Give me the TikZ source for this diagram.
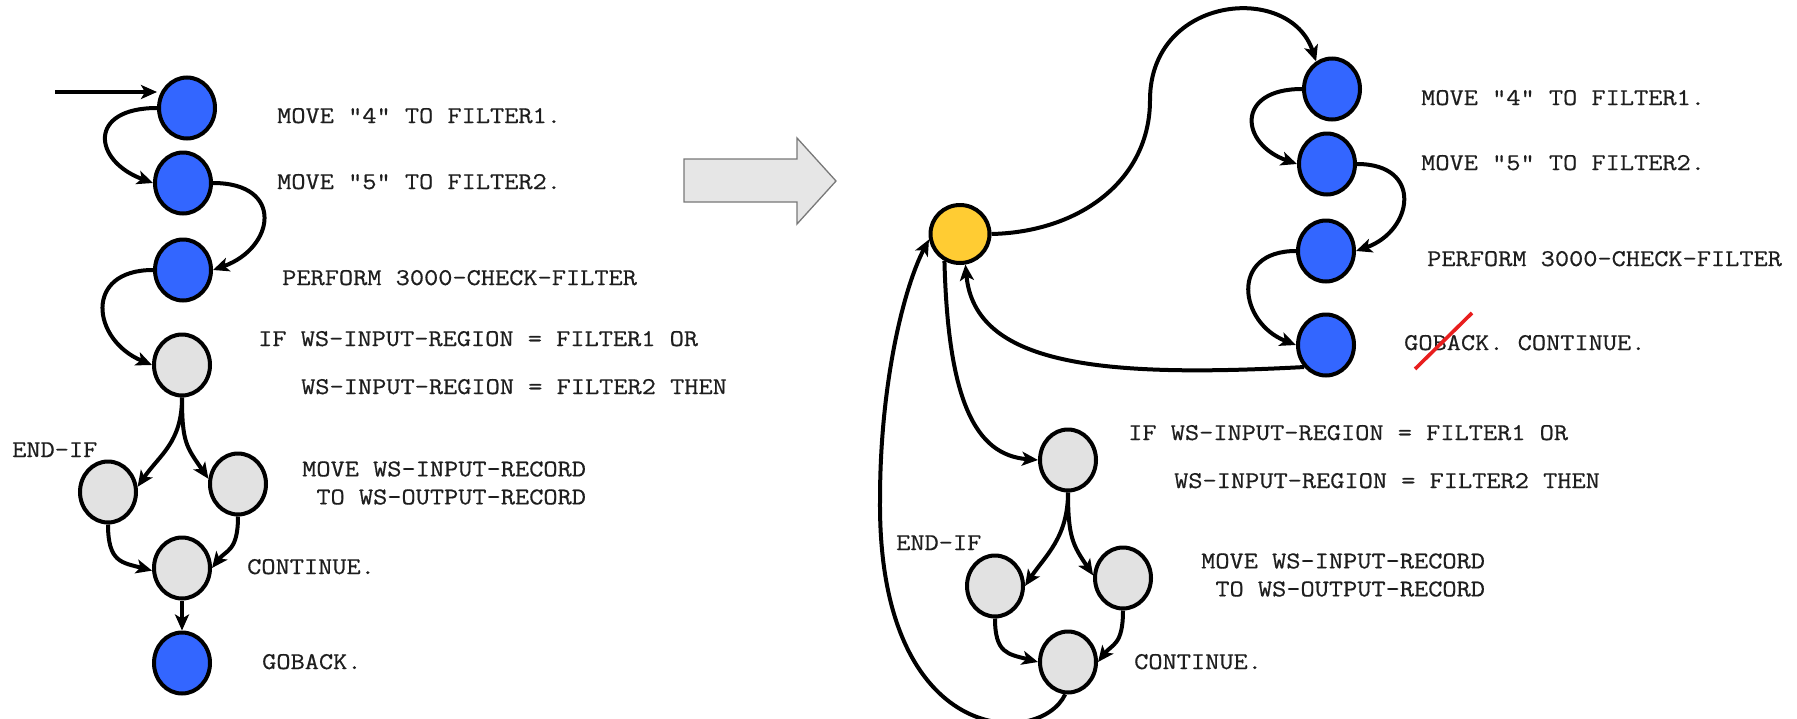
\documentclass[tikz,border=0pt]{standalone}
\usepackage{fontspec}
\setmonofont[FakeStretch=1.148,FakeBold=0.6]{Latin Modern Mono}
\usetikzlibrary{arrows.meta,shapes.geometric,calc}
\definecolor{stmtblue}{RGB}{51,102,255}
\definecolor{stmtgray}{RGB}{226,226,226}
\definecolor{hubyellow}{RGB}{255,204,51}
\definecolor{blockgray}{RGB}{230,230,230}
\definecolor{blockedge}{RGB}{120,120,120}
\definecolor{codeink}{RGB}{30,30,30}
\definecolor{strikered}{RGB}{232,30,30}

\begin{document}
\begin{tikzpicture}[x=1pt,y=1pt,
  stmt/.style={ellipse, draw=black, line width=4pt, minimum width=56pt,
               minimum height=61pt, inner sep=0pt},
  bluestmt/.style={stmt, fill=stmtblue},
  graystmt/.style={stmt, fill=stmtgray},
  hub/.style={stmt, fill=hubyellow, minimum width=59pt, minimum height=58pt},
  flow/.style={line width=4pt, -{Stealth[length=16pt,width=14pt,inset=4pt]}},
  code/.style={font=\ttfamily\fontsize{24}{28}\selectfont, text=codeink,
               inner sep=0pt, anchor=base west},
  codeblock/.style={code, anchor=west, align=right},
]
\useasboundingbox (0,0) rectangle (1797,-718);

% ---------- original control flow (left) ----------
\node[bluestmt] (L1) at (187,-108) {};
\node[bluestmt] (L2) at (183,-183) {};
\node[bluestmt] (L3) at (183,-270) {};
\node[graystmt] (L4) at (182,-365) {};
\node[graystmt] (L5) at (108,-492) {};
\node[graystmt] (L6) at (238,-484) {};
\node[graystmt] (L7) at (182,-568) {};
\node[bluestmt] (L8) at (182,-663) {};
\coordinate (entry) at (55,-92);

\draw[flow] (entry) -- (entry -| L1.west);
\draw[flow] (L1.west) .. controls +(-70,0) and +(-60,22) .. (L2.west);
\draw[flow] (L2.east) .. controls +(72,0) and +(62,22) .. (L3.east);
\draw[flow] (L3.west) .. controls +(-70,0) and +(-60,25) .. (L4.west);
\draw[flow] (L4.south) .. controls +(0,-45) and +(22,32) .. (L5.10);
\draw[flow] (L4.south) .. controls +(0,-45) and +(-22,32) .. (L6.170);
\draw[flow] (L5.south) .. controls +(0,-38) and +(-30,8) .. (L7.185);
\draw[flow] (L6.south) .. controls +(0,-35) and +(14,18) .. (L7.east);
\draw[flow] (L7.south) -- (L8.north);

\node[code] (t1) at (277,-123) {MOVE "4" TO FILTER1.};
\node[code] (t2) at (277,-189) {MOVE "5" TO FILTER2.};
\node[code] (t3) at (282,-285) {PERFORM 3000-CHECK-FILTER};
\node[code] (t4) at (258,-346) {IF WS-INPUT-REGION = FILTER1 OR};
\node[code] (t5) at (301,-394) {WS-INPUT-REGION = FILTER2 THEN};
\node[code] (t6) at (12,-457) {END-IF};
\node[codeblock] (t7) at (302,-483) {MOVE WS-INPUT-RECORD\\TO WS-OUTPUT-RECORD};
\node[code] (t8) at (247,-574) {CONTINUE.};
\node[code] (t9) at (262,-669) {GOBACK.};

% ---------- transformation arrow ----------
\draw[draw=blockedge, fill=blockgray, line width=1.3pt]
  (684,-159) -- (797,-159) -- (797,-138) -- (836,-181) -- (797,-224)
  -- (797,-202) -- (684,-202) -- cycle;

% ---------- rewritten control flow (right) ----------
\node[bluestmt] (R1) at (1332,-89) {};
\node[bluestmt] (R2) at (1327,-164) {};
\node[bluestmt] (R3) at (1326,-251) {};
\node[bluestmt] (R4) at (1326,-345) {};
\node[hub] (Y) at (960,-234) {};
\node[graystmt] (G1) at (1068,-460) {};
\node[graystmt] (G2) at (995,-586) {};
\node[graystmt] (G3) at (1123,-578) {};
\node[graystmt] (G4) at (1068,-662) {};
\coordinate (bend) at (1150,-100);
\coordinate (loopleft) at (880,-500);

\draw[flow] (Y.east) .. controls (1080,-232) and (1150,-180) .. (bend)
  .. controls (1150,5) and (1290,18) .. (R1.120);
\draw[flow] (R1.west) .. controls +(-67,0) and +(-57,20) .. (R2.west);
\draw[flow] (R2.east) .. controls +(67,0) and +(57,20) .. (R3.east);
\draw[flow] (R3.west) .. controls +(-67,0) and +(-57,22) .. (R4.west);
\draw[flow] (R4.225) .. controls (1100,-378) and (975,-365) .. (Y.-80);
\draw[flow] (Y.240) .. controls (948,-400) and (975,-455) .. (G1.west);
\draw[flow] (G1.south) .. controls +(0,-45) and +(20,30) .. (G2.east);
\draw[flow] (G1.south) .. controls +(0,-45) and +(-20,30) .. (G3.175);
\draw[flow] (G2.south) .. controls +(0,-35) and +(-30,8) .. (G4.west);
\draw[flow] (G3.south) .. controls +(0,-35) and +(14,18) .. (G4.east);
\draw[flow] (G4.-95) .. controls (1040,-748) and (878,-748) .. (loopleft)
  .. controls (880,-380) and (905,-285) .. (Y.190);

\node[code] (r1) at (1421,-105) {MOVE "4" TO FILTER1.};
\node[code] (r2) at (1421,-170) {MOVE "5" TO FILTER2.};
\node[code] (r3) at (1427,-266) {PERFORM 3000-CHECK-FILTER};
\node[code] (r4) at (1404,-350) {GOBACK. CONTINUE.};
\node[code] (r5) at (1128,-440) {IF WS-INPUT-REGION = FILTER1 OR};
\node[code] (r6) at (1174,-488) {WS-INPUT-REGION = FILTER2 THEN};
\node[codeblock] (r7) at (1201,-575) {MOVE WS-INPUT-RECORD\\TO WS-OUTPUT-RECORD};
\node[code] (r8) at (896,-550) {END-IF};
\node[code] (r9) at (1134,-669) {CONTINUE.};

% strike-through of the removed GOBACK
\draw[strikered, line width=3.6pt] (1415,-369) -- (1472,-313);
\end{tikzpicture}
\end{document}
